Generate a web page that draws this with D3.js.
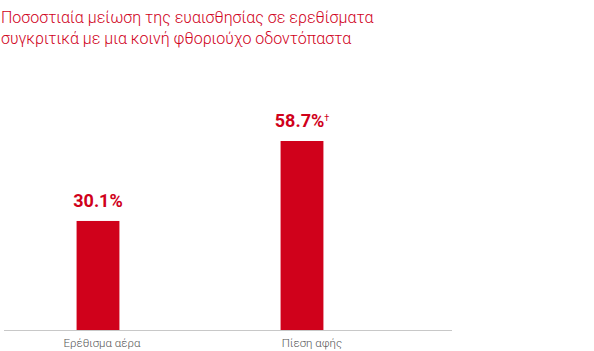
<!DOCTYPE html>
<html>
<head>
<meta charset="utf-8">
<script src="https://cdn.jsdelivr.net/npm/d3@7"></script>
<style>
  body { margin: 0; background: #fff; }
  svg { display: block; font-family: Roboto, "Noto Sans", sans-serif; }
</style>
</head>
<body>
<div id="chart"></div>
<script>
let titleLines = ['Ποσοστιαία μείωση της ευαισθησίας σε ερεθίσματα',
                  'συγκριτικά με μια κοινή φθοριούχο οδοντόπαστα'];
let categories = ['Ερέθισμα αέρα', 'Πίεση αφής'];
let values = [30.1, 58.7];
let valueLabels = ['30.1%', '58.7%'];
let footMarks = ['', '†'];

let svgWidth = 594, svgHeight = 351;
let red = '#d0011b';

let svg = d3.select('#chart').append('svg')
  .attr('width', svgWidth)
  .attr('height', svgHeight);

// title
svg.append('text')
  .attr('x', 1)
  .attr('y', 23)
  .attr('fill', red)
  .style('font-size', '16px')
  .style('font-weight', 300)
  .selectAll('tspan')
  .data(titleLines)
  .join('tspan')
    .attr('x', 1)
    .attr('dy', (d, i) => i ? 20.5 : 0)
    .text(d => d);

let x = d3.scaleBand()
  .domain(categories)
  .range([-4, 404])
  .paddingInner(0.79)
  .paddingOuter(0.395);

// baseline is not at zero in the original artwork
let y = d3.scaleLinear()
  .domain([-8.9, 58.7])
  .range([330, 141]);

svg.append('line')
  .attr('x1', 4).attr('x2', 452)
  .attr('y1', 330.5).attr('y2', 330.5)
  .attr('stroke', '#c8c8c8')
  .attr('stroke-width', 1);

svg.selectAll('rect.bar')
  .data(values)
  .join('rect')
    .attr('class', 'bar')
    .attr('x', (d, i) => x(categories[i]))
    .attr('width', x.bandwidth())
    .attr('y', d => y(d))
    .attr('height', d => y.range()[0] - y(d))
    .attr('fill', red);

let lbl = svg.selectAll('text.val')
  .data(values)
  .join('text')
    .attr('class', 'val')
    .attr('x', (d, i) => x(categories[i]) + x.bandwidth() / 2)
    .attr('y', d => y(d) - 14)
    .attr('text-anchor', 'middle')
    .attr('fill', red)
    .style('font-size', '18px')
    .style('font-weight', 700);
lbl.append('tspan').text((d, i) => valueLabels[i]);
lbl.append('tspan')
  .attr('dy', -6)
  .style('font-size', '9px')
  .style('font-weight', 400)
  .text((d, i) => footMarks[i]);

svg.selectAll('text.cat')
  .data(categories)
  .join('text')
    .attr('class', 'cat')
    .attr('x', (d, i) => x(d) + x.bandwidth() / 2 + (i ? 10 : 4))
    .attr('y', 347)
    .attr('text-anchor', 'middle')
    .attr('fill', '#555')
    .style('font-size', '11.5px')
    .style('font-weight', 300)
    .text(d => d);
</script>
</body>
</html>
